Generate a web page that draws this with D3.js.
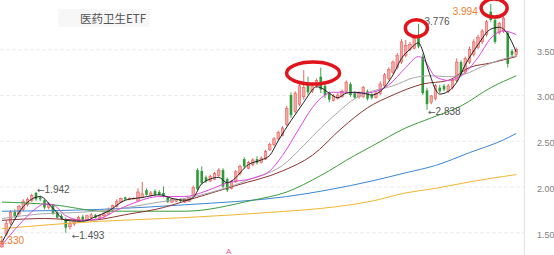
<!DOCTYPE html>
<html><head><meta charset="utf-8">
<script src="https://cdn.jsdelivr.net/npm/d3@7"></script>
<style>html,body{margin:0;padding:0;background:#fff;overflow:hidden}</style>
</head><body><svg id="c" width="554" height="255"></svg>
<script>
const title = "医药卫生ETF";
const opens  = [1.34,1.48,1.60,1.72,1.70,1.75,1.80,1.85,1.93,1.88,1.85,1.77,1.80,1.72,1.68,1.64,1.56,1.59,1.62,1.67,1.64,1.66,1.69,1.66,1.68,1.70,1.74,1.78,1.83,1.88,1.86,1.868,1.84,1.88,1.96,1.90,1.95,1.94,1.93,1.88,1.83,1.84,1.86,1.83,1.84,1.90,2.18,2.17,2.10,2.06,2.08,2.12,2.18,2.08,1.98,2.05,2.14,2.30,2.20,2.24,2.30,2.26,2.30,2.40,2.46,2.52,2.56,2.68,3.00,2.82,2.90,2.98,3.14,3.04,3.10,3.20,3.10,3.02,2.94,2.96,2.98,3.04,3.12,3.02,2.98,2.98,3.04,3.00,2.97,3.02,3.10,3.18,3.25,3.30,3.36,3.43,3.50,3.51,3.64,3.42,3.05,2.92,2.96,3.08,3.10,3.04,3.08,3.16,3.36,3.25,3.36,3.44,3.52,3.58,3.66,3.91,3.82,3.68,3.70,3.68,3.48,3.44];
const closes = [1.40,1.60,1.72,1.68,1.78,1.84,1.86,1.90,1.86,1.86,1.77,1.81,1.70,1.66,1.65,1.55,1.60,1.63,1.66,1.64,1.68,1.69,1.66,1.68,1.70,1.75,1.79,1.84,1.87,1.86,1.87,1.872,1.94,1.92,1.91,1.93,1.91,1.91,1.89,1.83,1.86,1.86,1.84,1.86,1.88,1.99,1.97,2.04,2.06,2.11,2.14,2.18,2.00,1.96,2.05,2.16,2.22,2.22,2.26,2.29,2.26,2.31,2.38,2.46,2.52,2.59,2.64,2.85,2.78,3.02,3.10,3.08,3.03,3.10,3.16,3.06,3.00,2.95,2.99,3.00,3.04,3.14,3.00,2.97,3.02,3.08,2.96,2.97,3.02,3.12,3.22,3.28,3.36,3.43,3.58,3.54,3.55,3.62,3.53,3.02,2.90,2.99,3.10,3.04,3.06,3.10,3.16,3.36,3.22,3.40,3.50,3.58,3.63,3.70,3.80,3.82,3.58,3.78,3.84,3.34,3.44,3.50];
const highs  = [1.42,1.63,1.74,1.75,1.80,1.86,1.88,1.92,1.942,1.90,1.86,1.83,1.81,1.73,1.70,1.66,1.62,1.65,1.68,1.69,1.69,1.71,1.70,1.70,1.72,1.77,1.80,1.86,1.88,1.89,1.88,1.88,1.98,2.05,1.98,1.95,1.97,1.96,2.00,1.89,1.87,1.87,1.87,1.87,1.89,2.01,2.20,2.22,2.12,2.13,2.16,2.20,2.20,2.10,2.07,2.18,2.24,2.32,2.28,2.31,2.33,2.33,2.40,2.48,2.54,2.61,2.66,2.88,3.03,3.04,3.14,3.27,3.20,3.13,3.18,3.30,3.15,3.04,3.01,3.02,3.06,3.16,3.14,3.04,3.04,3.10,3.06,3.02,3.04,3.15,3.24,3.30,3.38,3.46,3.61,3.60,3.58,3.64,3.776,3.45,3.08,3.00,3.12,3.11,3.12,3.12,3.18,3.40,3.38,3.42,3.53,3.61,3.66,3.72,3.82,3.994,3.85,3.80,3.86,3.70,3.50,3.52];
const lows   = [1.33,1.46,1.58,1.66,1.68,1.73,1.78,1.83,1.84,1.84,1.75,1.75,1.69,1.65,1.63,1.493,1.53,1.57,1.60,1.62,1.62,1.65,1.65,1.65,1.66,1.69,1.73,1.77,1.82,1.85,1.85,1.86,1.83,1.87,1.90,1.89,1.90,1.90,1.88,1.82,1.82,1.83,1.83,1.82,1.83,1.89,1.95,2.02,2.04,2.05,2.07,2.10,1.98,1.94,1.97,2.04,2.12,2.20,2.19,2.22,2.24,2.25,2.29,2.39,2.44,2.50,2.55,2.66,2.75,2.80,2.88,2.95,3.00,3.02,3.08,3.02,2.97,2.92,2.93,2.95,2.97,3.02,2.98,2.96,2.96,2.97,2.94,2.95,2.96,3.00,3.08,3.16,3.23,3.28,3.34,3.41,3.48,3.50,3.51,3.00,2.838,2.90,2.94,3.02,3.04,3.02,3.06,3.14,3.20,3.23,3.34,3.42,3.50,3.56,3.64,3.80,3.56,3.66,3.68,3.30,3.42,3.42];

// moving averages: [candle index, value]
const ma5   = [[0,1.39],[2,1.56],[5,1.78],[9,1.89],[12,1.76],[15,1.63],[19,1.62],[22,1.67],[25,1.73],[29,1.85],[33,1.88],[37,1.91],[40,1.87],[43,1.85],[45,1.88],[47,2.03],[51,2.10],[53,2.04],[54,2.06],[58,2.24],[61,2.29],[63,2.34],[65,2.50],[68,2.72],[71,2.92],[72,2.99],[74,3.09],[75,3.08],[77,3.02],[79,2.97],[81,3.02],[83,3.03],[85,3.02],[87,3.00],[89,3.04],[92,3.22],[94,3.40],[96,3.50],[98,3.57],[99,3.48],[100,3.32],[101,3.18],[102,3.06],[103,3.01],[105,3.04],[107,3.14],[109,3.33],[112,3.55],[115,3.72],[117,3.74],[118,3.72],[121,3.47]];
const ma10  = [[0,1.36],[4,1.58],[8,1.76],[10,1.81],[12,1.80],[15,1.68],[19,1.63],[23,1.65],[27,1.74],[31,1.82],[37,1.89],[43,1.89],[48,1.95],[53,2.04],[59,2.09],[63,2.17],[66,2.34],[70,2.64],[73,2.86],[76,3.00],[78,3.03],[81,3.03],[85,3.02],[88,3.04],[91,3.11],[95,3.30],[98,3.42],[99,3.40],[102,3.20],[105,3.16],[108,3.21],[112,3.41],[115,3.62],[118,3.70],[121,3.66]];
const ma20  = [[0,1.65],[9,1.70],[19,1.72],[28,1.76],[37,1.83],[43,1.87],[51,1.96],[59,2.09],[66,2.23],[71,2.45],[75,2.64],[79,2.81],[83,2.96],[87,3.04],[92,3.10],[97,3.19],[101,3.21],[105,3.20],[109,3.23],[113,3.31],[117,3.38],[121,3.43]];
const ma30  = [[0,1.63],[10,1.65],[20,1.63],[30,1.70],[38,1.77],[43,1.84],[55,2.01],[66,2.17],[73,2.34],[80,2.64],[86,2.86],[92,3.00],[99,3.12],[105,3.16],[110,3.30],[115,3.35],[121,3.42]];
const ma60  = [[0,1.83],[12,1.80],[24,1.73],[43,1.73],[59,1.85],[67,1.94],[75,2.12],[83,2.34],[87,2.44],[95,2.64],[101,2.75],[108,2.88],[115,3.08],[121,3.21]];
const ma120 = [[0,1.73],[23,1.75],[43,1.80],[67,1.89],[87,2.06],[95,2.15],[102,2.23],[110,2.37],[118,2.51],[121,2.58]];
const ma250 = [[0,1.54],[23,1.62],[43,1.66],[67,1.73],[75,1.76],[87,1.84],[95,1.93],[102,1.98],[110,2.05],[118,2.11],[121,2.13]];

const yTicks = [1.5, 2.0, 2.5, 3.0, 3.5];

// price labels at extremes
const markIdx   = [0, 8, 15, 100, 98, 115];
const markVal   = [1.330, 1.942, 1.493, 2.838, 3.776, 3.994];
const markText  = ["1.330", "1.942", "1.493", "2.838", "3.776", "3.994"];
const markArrow = [false, true, true, true, false, false];
// circled highs
const ringIdx = [73.2, 97.5, 115.8];
const ringVal = [3.24, 3.73, 3.95];
const eventIdx = [53];

const svg = d3.select("#c");
const x = d3.scaleLinear().domain([0, closes.length - 1]).range([2, 516.25]);
const y = d3.scaleLinear().domain([1.5, 3.5]).range([232.25, 49.25]);
const FONT = "Liberation Sans, Arial, sans-serif";

// grid + right labels
const axis = d3.axisRight(y).tickValues(yTicks).tickFormat(d3.format(".2f")).tickSize(524).tickPadding(13);
const ga = svg.append("g").call(axis);
ga.select(".domain").remove();
ga.selectAll(".tick line").attr("stroke", "#ececec").attr("stroke-dasharray", "4,2");
ga.selectAll(".tick text").attr("fill", "#808080").attr("dy", "0.55em")
  .style("font-family", FONT).style("font-size", "9px");

svg.append("line").attr("x1", 524.5).attr("x2", 524.5).attr("y1", 0).attr("y2", 255)
  .attr("stroke", "#e4e4e4");

// title
svg.append("rect").attr("x", 58).attr("y", 9).attr("width", 92).attr("height", 18).attr("fill", "#f7f7f7");
svg.append("text").attr("x", 80).attr("y", 22.5).text(title)
  .attr("fill", "#555").style("font-family", "Noto Sans CJK SC, sans-serif").style("font-size", "11.5px");

// candles
const data = closes.map((c, i) => ({i, o: opens[i], c, h: highs[i], l: lows[i]}));
const up = d => d.c >= d.o;
const RED = "#e8504c", GREEN = "#2f9a3a";
const cg = svg.append("g");
cg.selectAll("line").data(data).join("line")
  .attr("x1", d => x(d.i)).attr("x2", d => x(d.i))
  .attr("y1", d => y(d.h)).attr("y2", d => y(d.l))
  .attr("stroke", d => up(d) ? RED : GREEN).attr("stroke-width", 0.9);
cg.selectAll("rect").data(data).join("rect")
  .attr("x", d => x(d.i) - 1.3).attr("width", 2.6)
  .attr("y", d => y(Math.max(d.o, d.c)))
  .attr("height", d => Math.max(0.8, Math.abs(y(d.o) - y(d.c))))
  .attr("fill", d => up(d) ? "#f5a5a3" : GREEN)
  .attr("stroke", d => up(d) ? RED : "none").attr("stroke-width", 0.5);

// moving averages
const smooth = d3.line().x(d => x(d[0])).y(d => y(d[1])).curve(d3.curveMonotoneX);
const lines = [
  [ma250, "#f2b632"], [ma120, "#3b86d4"], [ma60, "#3c9c3c"],
  [ma30, "#8e3333"], [ma20, "#a8a8a8"], [ma10, "#de46de"], [ma5, "#222"]
];
lines.forEach(([s, col]) => {
  svg.append("path").attr("d", smooth(s)).attr("fill", "none")
    .attr("stroke", col).attr("stroke-width", 1);
});

// extreme labels
const labelDx = [-3, 1, 6, 1, 6, -13];
const labelDy = [-4, 1.5, 6.5, 5.5, 1, 10.5];
const labelAnchor = ["start", "start", "start", "start", "start", "end"];
const labelCol = ["#f07c30", "#555", "#555", "#555", "#555", "#f07c30"];
markIdx.forEach((mi, k) => {
  const t = svg.append("text").attr("x", x(mi) + labelDx[k]).attr("y", y(markVal[k]) + labelDy[k])
    .attr("text-anchor", labelAnchor[k]).attr("fill", labelCol[k])
    .style("font-family", FONT).style("font-size", "10px");
  if (markArrow[k]) {
    t.append("tspan").style("font-family", "DejaVu Sans, sans-serif").style("font-size", "9px").text("←");
  }
  t.append("tspan").text(markText[k]);
});

// red circles
const ringRx = [26.5, 11, 13], ringRy = [11, 8.5, 9];
ringIdx.forEach((ri, k) => {
  svg.append("ellipse").attr("cx", x(ri)).attr("cy", y(ringVal[k]))
    .attr("rx", ringRx[k]).attr("ry", ringRy[k])
    .attr("fill", "none").attr("stroke", "#e1141c").attr("stroke-width", 3.5);
});

// event marker
eventIdx.forEach(ei => {
  svg.append("text").attr("x", x(ei) + 1.5).attr("y", 254).attr("text-anchor", "middle")
    .attr("fill", "#ec5a9e").style("font-family", FONT)
    .style("font-size", "8px").text("A");
});
</script></body></html>
